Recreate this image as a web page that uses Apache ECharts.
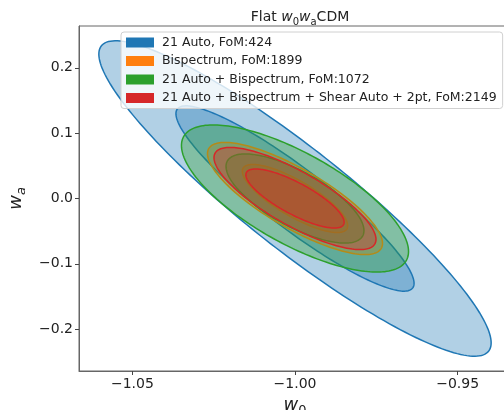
<!DOCTYPE html>
<html>
<head>
<meta charset="utf-8">
<script src="https://cdn.jsdelivr.net/npm/echarts@6/dist/echarts.min.js"></script>
<style>html,body{margin:0;padding:0;background:#fff;}#c{width:504px;height:410px;}</style>
</head>
<body>
<div id="c"></div>
<script>
// ---- data ----
const models = ['21 Auto, FoM:424', 'Bispectrum, FoM:1899', '21 Auto + Bispectrum, FoM:1072', '21 Auto + Bispectrum + Shear Auto + 2pt, FoM:2149'];
const colors = ['#1f77b4', '#ff7f0e', '#2ca02c', '#d62728'];
const fiducialW0 = -1.0;
const fiducialWa = 0.0;
// half-extents of the 2-sigma and 1-sigma contours
const w0Extent2 = [0.0603, 0.0269, 0.0349, 0.0249];
const waExtent2 = [0.2414, 0.0858, 0.1126, 0.0782];
const w0Extent1 = [0.0366, 0.0162, 0.0212, 0.0151];
const waExtent1 = [0.1418, 0.0521, 0.0682, 0.0452];
const correlation = [-0.915, -0.80, -0.72, -0.80];
const xTicks = [-1.05, -1.00, -0.95];
const yTicks = [-0.2, -0.1, 0.0, 0.1, 0.2];

const FONT = 'DejaVu Sans';
const chart = echarts.init(document.getElementById('c'), null, {renderer: 'canvas'});

function hexA(hex, a) {
  const r = parseInt(hex.slice(1, 3), 16), g = parseInt(hex.slice(3, 5), 16), b = parseInt(hex.slice(5, 7), 16);
  return 'rgba(' + r + ',' + g + ',' + b + ',' + a + ')';
}

const series = models.map(function (name, i) {
  return {
    name: name,
    type: 'custom',
    coordinateSystem: 'cartesian2d',
    clip: true,
    itemStyle: {color: colors[i]},
    encode: {x: 0, y: 1},
    data: [
      [fiducialW0, fiducialWa, w0Extent2[i], waExtent2[i], correlation[i]],
      [fiducialW0, fiducialWa, w0Extent1[i], waExtent1[i], correlation[i]]
    ],
    renderItem: function (params, api) {
      const cx = api.value(0), cy = api.value(1), sx = api.value(2), sy = api.value(3), rho = api.value(4);
      const q = Math.sqrt(1 - rho * rho);
      const pts = [];
      const N = 200;
      for (let k = 0; k < N; k++) {
        const t = 2 * Math.PI * k / N;
        pts.push(api.coord([cx + sx * Math.cos(t), cy + sy * (rho * Math.cos(t) + q * Math.sin(t))]));
      }
      return {
        type: 'polygon',
        shape: {points: pts},
        style: {fill: hexA(colors[i], 0.35), stroke: colors[i], lineWidth: 1.5}
      };
    }
  };
});

const txt = {fontFamily: FONT, color: '#222', fontWeight: 'normal'};
function st(o) { return Object.assign({}, txt, o); }

const option = {
  backgroundColor: '#fff',
  animation: false,
  title: {
    text: '{n|Flat }{i|w}{s|0}{i|w}{s|a}{n|CDM}',
    left: 295, top: 1, textAlign: 'center',
    textStyle: {
      fontWeight: 'normal',
      rich: {
        n: st({fontSize: 14, lineHeight: 18, verticalAlign: 'bottom'}),
        i: st({fontSize: 14, fontStyle: 'italic', lineHeight: 18, verticalAlign: 'bottom'}),
        s: st({fontSize: 10, lineHeight: 14, verticalAlign: 'bottom', padding: [0, 0, -3, 0]})
      }
    }
  },
  legend: {
    orient: 'vertical',
    left: 121, top: 32,
    padding: [3.5, 6, 3.5, 5],
    itemWidth: 28, itemHeight: 10, itemGap: 4.5,
    icon: 'rect',
    backgroundColor: 'rgba(255,255,255,0.8)',
    borderColor: '#d0d0d0', borderWidth: 1, borderRadius: 3,
    textStyle: {fontFamily: FONT, fontSize: 12.5, color: '#222', lineHeight: 14, padding: [0, 0, 0, 3]},
    data: models.map(function (m, i) { return {name: m, itemStyle: {color: colors[i], opacity: 1, borderWidth: 0}}; }),
    selectedMode: false
  },
  grid: {left: 79, top: 26, right: -7, bottom: 39, outerBoundsMode: 'none', containLabel: false,
    show: true, borderColor: '#666', borderWidth: 1, backgroundColor: 'transparent'},
  xAxis: {
    type: 'value', min: -1.0664, max: -0.9336,
    name: '{i|w}{s|0}', nameLocation: 'middle', nameGap: 16,
    nameTextStyle: {
      rich: {
        i: st({fontSize: 18, fontStyle: 'italic', lineHeight: 20, verticalAlign: 'bottom'}),
        s: st({fontSize: 13, lineHeight: 16, verticalAlign: 'bottom', padding: [0, 0, -3, 0]})
      }
    },
    splitLine: {show: false},
    axisLine: {show: true, onZero: false, lineStyle: {color: '#666', width: 1}},
    axisTick: {show: true, length: 4, lineStyle: {color: '#444'}, customValues: xTicks},
    axisLabel: {fontFamily: FONT, fontSize: 14, color: '#222', margin: 6, customValues: xTicks,
      formatter: function (v) { return (v < 0 ? '\u2212' : '') + Math.abs(v).toFixed(2); }}
  },
  yAxis: {
    type: 'value', min: -0.264, max: 0.264,
    name: '{i|w}{s|a}', nameLocation: 'middle', nameGap: 39, nameRotate: 90,
    nameTextStyle: {
      rich: {
        i: st({fontSize: 18, fontStyle: 'italic', lineHeight: 20, verticalAlign: 'bottom'}),
        s: st({fontSize: 13, fontStyle: 'italic', lineHeight: 16, verticalAlign: 'bottom', padding: [0, 0, -3, 0]})
      }
    },
    splitLine: {show: false},
    axisLine: {show: true, onZero: false, lineStyle: {color: '#666', width: 1}},
    axisTick: {show: true, length: 4, lineStyle: {color: '#444'}, customValues: yTicks},
    axisLabel: {fontFamily: FONT, fontSize: 14, color: '#222', margin: 6, customValues: yTicks,
      formatter: function (v) { return (v < 0 ? '\u2212' : '') + Math.abs(v).toFixed(1); }}
  },
  series: series
};
chart.setOption(option);
</script>
</body>
</html>
